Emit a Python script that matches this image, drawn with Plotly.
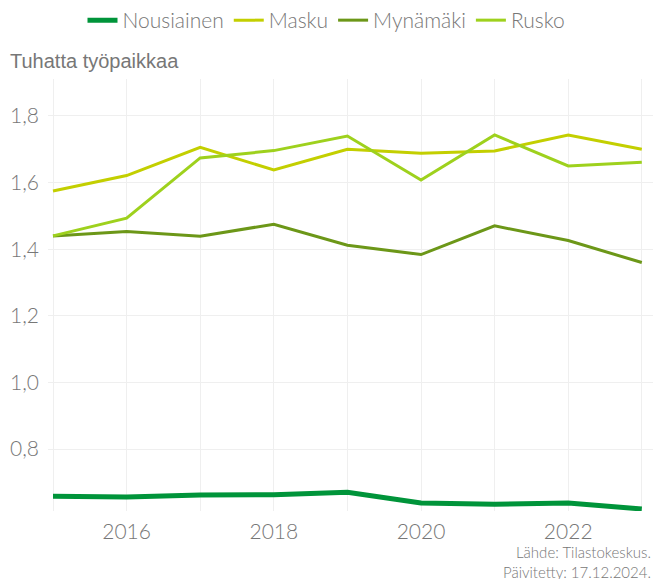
import plotly.graph_objects as go

years = [2015, 2016, 2017, 2018, 2019, 2020, 2021, 2022, 2023]
nousiainen = [0.658, 0.656, 0.662, 0.663, 0.670, 0.638, 0.634, 0.638, 0.620]
masku = [1.575, 1.621, 1.706, 1.638, 1.700, 1.688, 1.695, 1.743, 1.700]
mynamaki = [1.440, 1.453, 1.439, 1.475, 1.412, 1.384, 1.470, 1.426, 1.360]
rusko = [1.440, 1.493, 1.674, 1.696, 1.740, 1.608, 1.743, 1.650, 1.661]

series = [
    ("Nousiainen", nousiainen, "#00943a", 5),
    ("Masku", masku, "#c3cf00", 3),
    ("Mynämäki", mynamaki, "#6c9718", 3),
    ("Rusko", rusko, "#9ed11d", 3),
]

fig = go.Figure()
for name, vals, color, w in series:
    fig.add_trace(go.Scatter(x=years, y=vals, name=name, mode="lines",
                             line=dict(color=color, width=w)))

font_main = dict(family="Lato", size=21, color="#777777", weight=300)

fig.update_layout(
    width=653, height=579,
    margin=dict(l=48, r=0, t=79, b=68, autoexpand=False),
    paper_bgcolor="white", plot_bgcolor="white",
    separators=",.",
    font=font_main,
    hovermode=False,
    showlegend=True,
    legend=dict(orientation="h", x=0.5, xanchor="center", y=1.0, yanchor="top",
                xref="container", yref="container",
                font=dict(family="Lato", size=21, color="#777777", weight=300),
                itemwidth=30, traceorder="normal", tracegroupgap=0),
    xaxis=dict(range=[2014.932, 2023.152], tickvals=[2016, 2018, 2020, 2022],
               showgrid=True, gridcolor="#efefef", gridwidth=1, automargin=False,
               minor=dict(tickvals=[2015, 2017, 2019, 2021, 2023], showgrid=True,
                          gridcolor="#efefef", gridwidth=1),
               zeroline=False, showline=False, ticks="", ticklabelstandoff=6,
               tickfont=font_main),
    yaxis=dict(range=[0.614, 1.911], tickvals=[0.8, 1.0, 1.2, 1.4, 1.6, 1.8],
               tickformat=".1f", showgrid=True, gridcolor="#efefef", gridwidth=1,
               automargin=False,
               zeroline=False, showline=False, ticks="", ticklabelstandoff=8,
               tickfont=font_main),
    annotations=[
        dict(text="Tuhatta työpaikkaa", xref="paper", yref="paper", x=-48/605, y=1.0,
             xanchor="left", yanchor="middle", xshift=8, yshift=18, showarrow=False,
             font=dict(family="Liberation Sans", size=20, color="#777777")),
        dict(text="Lähde: Tilastokeskus.<br>Päivitetty: 17.12.2024.", xref="paper", yref="paper",
             x=1.0, y=0, yshift=-51, xshift=0, xanchor="right", yanchor="middle", align="right",
             showarrow=False,
             font=dict(family="Lato", size=15, color="#777777", weight=300)),
    ],
)

fig.write_html("out.html", config={"displayModeBar": False},
               post_script="document.body.style.margin='0';document.body.style.padding='0';")
